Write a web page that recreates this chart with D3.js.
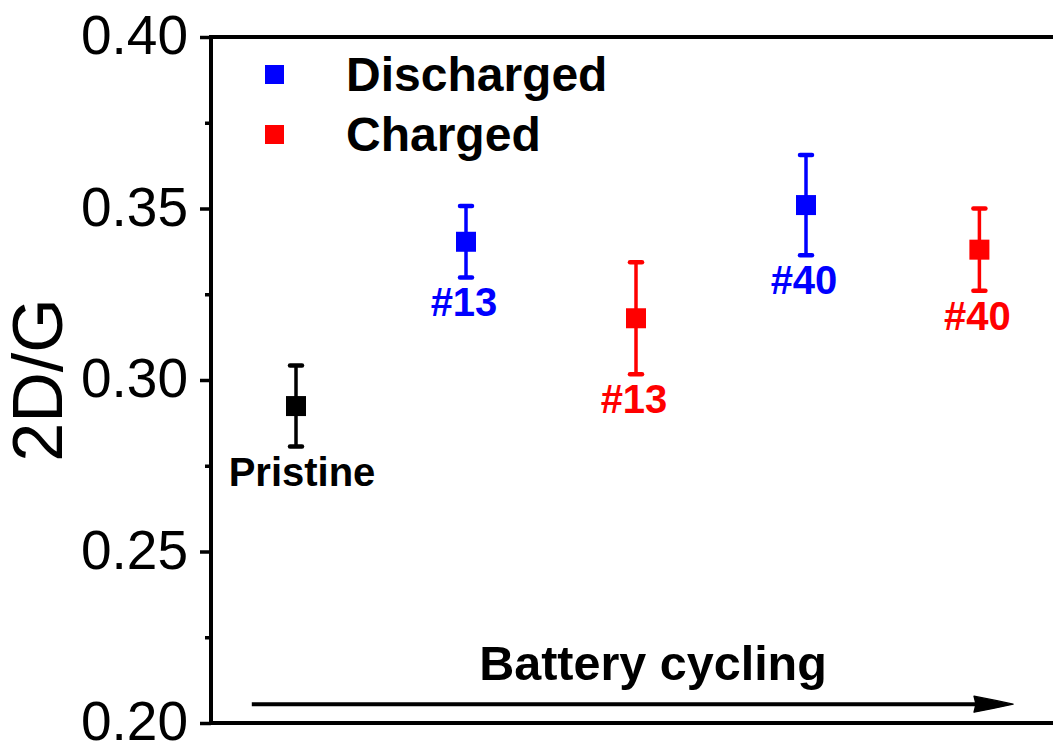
<!DOCTYPE html>
<html>
<head>
<meta charset="utf-8">
<script src="https://cdn.jsdelivr.net/npm/d3@7"></script>
<style>
  html, body { margin: 0; padding: 0; background: #fff; }
  svg { display: block; }
  text { font-family: "Liberation Sans", Arial, sans-serif; }
</style>
</head>
<body>
<svg id="chart" width="1053" height="742"></svg>
<script>
// 2D/G Raman intensity ratio along battery cycling
const positions = [1, 2, 3, 4, 5.02];
const pointLabels = ["Pristine", "#13", "#13", "#40", "#40"];
const pointStates = ["Pristine", "Discharged", "Charged", "Discharged", "Charged"];
const ratioValues = [0.2924, 0.3403, 0.3180, 0.3510, 0.3380];
const ratioErrors = [0.0118, 0.0104, 0.0163, 0.0146, 0.0120];
const yTickValues = [0.20, 0.25, 0.30, 0.35, 0.40];
const yMinorTickValues = [0.225, 0.275, 0.325, 0.375];
const legendNames = ["Discharged", "Charged"];

const stateColor = { Pristine: "#000000", Discharged: "#0000ff", Charged: "#ff0000" };

const svg = d3.select("#chart");
const W = 1053, H = 742;
const margin = { left: 211, top: 37, bottom: 19 };

const x = d3.scaleLinear().domain([0.5, 5.5]).range([margin.left, margin.left + 850]);
const y = d3.scaleLinear().domain([0.20, 0.40]).range([H - margin.bottom, margin.top]);

const points = positions.map((p, i) => ({
  pos: p, label: pointLabels[i], state: pointStates[i],
  value: ratioValues[i], err: ratioErrors[i]
}));

// frame: top and bottom lines
svg.append("line")
  .attr("x1", margin.left).attr("x2", W + 10)
  .attr("y1", y(0.40)).attr("y2", y(0.40))
  .attr("stroke", "#000").attr("stroke-width", 4);
svg.append("line")
  .attr("x1", margin.left).attr("x2", W + 10)
  .attr("y1", y(0.20)).attr("y2", y(0.20))
  .attr("stroke", "#000").attr("stroke-width", 4);

// left axis with major ticks and labels
const yAxis = d3.axisLeft(y)
  .tickValues(yTickValues)
  .tickFormat(d3.format(".2f"))
  .tickSize(11)
  .tickSizeOuter(0)
  .tickPadding(12);
const gy = svg.append("g").attr("transform", `translate(${margin.left},0)`).call(yAxis);
gy.select(".domain").attr("stroke-width", 4).attr("d", `M0,${y(0.20) + 2}V${y(0.40) - 2}`);
gy.selectAll(".tick line").attr("stroke-width", 3.5);
gy.selectAll(".tick text")
  .attr("font-family", "'Liberation Sans', Arial, sans-serif")
  .attr("font-size", 55)
  .attr("dy", "0.3em")
  .attr("fill", "#000");

// minor ticks
const yMinor = d3.axisLeft(y).tickValues(yMinorTickValues).tickSize(6).tickFormat("");
const gm = svg.append("g").attr("transform", `translate(${margin.left},0)`).call(yMinor);
gm.select(".domain").remove();
gm.selectAll(".tick line").attr("stroke-width", 3.5);

// y title
svg.append("text")
  .attr("transform", `translate(62,${(y(0.20) + y(0.40)) / 2}) rotate(-90)`)
  .attr("text-anchor", "middle")
  .attr("font-size", 70)
  .attr("fill", "#000")
  .text("2D/G");

// cycling arrow
const arrowY = y(0.2055);
const arrowX0 = x(0.74), arrowX1 = x(5.218);
svg.append("line")
  .attr("x1", arrowX0).attr("x2", arrowX1 - 30)
  .attr("y1", arrowY).attr("y2", arrowY)
  .attr("stroke", "#000").attr("stroke-width", 4);
svg.append("path")
  .attr("d", `M${arrowX1},${arrowY} Q${arrowX1 - 18},${arrowY - 4} ${arrowX1 - 39},${arrowY - 8} L${arrowX1 - 37},${arrowY} L${arrowX1 - 39},${arrowY + 8} Q${arrowX1 - 18},${arrowY + 4} ${arrowX1},${arrowY} Z`)
  .attr("fill", "#000").attr("stroke", "#000").attr("stroke-width", 1.5).attr("stroke-linejoin", "round");
svg.append("text")
  .attr("x", 653).attr("y", 680)
  .attr("text-anchor", "middle")
  .attr("font-size", 48.5).attr("font-weight", "bold")
  .attr("fill", "#000")
  .text("Battery cycling");

// error bars
const g = svg.append("g");
const bars = g.selectAll("g.pt").data(points).join("g").attr("class", "pt");
bars.append("line")
  .attr("x1", d => x(d.pos)).attr("x2", d => x(d.pos))
  .attr("y1", d => y(d.value + d.err)).attr("y2", d => y(d.value - d.err))
  .attr("stroke", d => stateColor[d.state]).attr("stroke-width", 3.5);
bars.selectAll("line.cap")
  .data(d => [{ d, v: d.value + d.err }, { d, v: d.value - d.err }])
  .join("line").attr("class", "cap")
  .attr("x1", c => x(c.d.pos) - 6).attr("x2", c => x(c.d.pos) + 6)
  .attr("y1", c => y(c.v)).attr("y2", c => y(c.v))
  .attr("stroke", c => stateColor[c.d.state]).attr("stroke-width", 4.5)
  .attr("stroke-linecap", "round");
// square markers
const S = 20;
bars.append("rect")
  .attr("x", d => x(d.pos) - S / 2).attr("y", d => y(d.value) - S / 2)
  .attr("width", S).attr("height", S)
  .attr("fill", d => stateColor[d.state]);
// point labels
bars.append("text")
  .attr("x", d => x(d.pos) + (d.label === "Pristine" ? 6 : -2))
  .attr("y", d => y(d.value - d.err) + 39)
  .attr("text-anchor", "middle")
  .attr("font-size", 40).attr("font-weight", "bold")
  .attr("fill", d => stateColor[d.state])
  .text(d => d.label);

// legend
const legend = svg.append("g");
legendNames.forEach((name, i) => {
  const cy = 74.5 + i * 60;
  legend.append("rect")
    .attr("x", 265).attr("y", cy - 9.5).attr("width", 19).attr("height", 19)
    .attr("fill", stateColor[name]);
  legend.append("text")
    .attr("x", 346).attr("y", cy + 16.5)
    .attr("font-size", 48).attr("font-weight", "bold")
    .attr("fill", "#000")
    .text(name);
});
</script>
</body>
</html>
